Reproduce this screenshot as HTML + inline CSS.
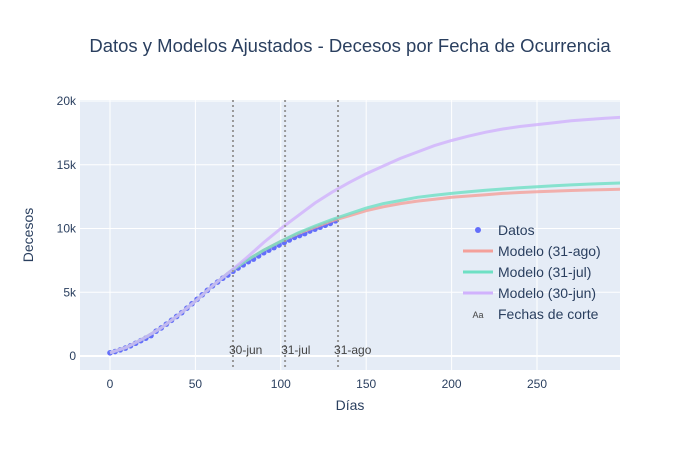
<!DOCTYPE html>
<html><head><meta charset="utf-8"><style>
body{margin:0;background:#fff;font-family:"Liberation Sans",sans-serif;}
</style></head><body>
<svg id="c" width="700" height="450" xmlns="http://www.w3.org/2000/svg" font-family="'Liberation Sans',sans-serif"></svg>
<script>
const modelDays=[0,10,20,30,40,50,60,70,80,90,100,110,120,130,140,150,160,170,180,190,200,210,220,230,240,250,260,270,280,290,300];
const modelAgo=[0.25,0.7,1.4,2.2,3.2,4.3,5.5,6.6,7.5,8.3,9.0,9.6,10.1,10.6,11.0,11.4,11.7,11.95,12.15,12.3,12.45,12.55,12.65,12.75,12.82,12.88,12.93,12.98,13.02,13.05,13.08];
const modelJul=[0.25,0.7,1.4,2.2,3.2,4.3,5.5,6.6,7.5,8.3,9.0,9.65,10.2,10.7,11.15,11.6,11.95,12.2,12.45,12.6,12.75,12.88,13.0,13.1,13.2,13.28,13.35,13.42,13.48,13.53,13.58];
const modelJun=[0.25,0.7,1.4,2.2,3.2,4.3,5.5,6.6,7.7,8.9,10.0,11.0,12.0,12.85,13.6,14.3,14.9,15.5,16.0,16.5,16.9,17.25,17.55,17.8,18.0,18.15,18.3,18.45,18.55,18.65,18.72];
const dataDays=[0,3,6,9,12,15,18,21,24,27,30,33,36,39,42,45,48,51,54,57,60,63,66,69,72,75,78,81,84,87,90,93,96,99,102,105,108,111,114,117,120,123,126,129,132];
const dataVals=[0.25,0.35,0.48,0.62,0.8,1.0,1.2,1.4,1.6,1.95,2.2,2.5,2.8,3.1,3.4,3.75,4.1,4.45,4.8,5.15,5.5,5.8,6.1,6.35,6.65,6.9,7.15,7.4,7.6,7.85,8.1,8.3,8.5,8.7,8.9,9.1,9.3,9.45,9.6,9.8,9.95,10.1,10.25,10.4,10.6];
const cutDays=[72,102.5,133.5];
const cutLabels=["30-jun","31-jul","31-ago"];
const xTicks=[0,50,100,150,200,250];
const yTicks=[0,5,10,15,20];
const yTickLabels=["0","5k","10k","15k","20k"];

const L=80,R=620,T=100,B=370;
const x=v=>110+(v)*1.708;
const y=v=>356-v*12.75;
const svg=document.getElementById('c');
const NS="http://www.w3.org/2000/svg";
function mk(tag,attrs,parent){const e=document.createElementNS(NS,tag);for(const k in attrs)e.setAttribute(k,attrs[k]);(parent||svg).appendChild(e);return e;}

const bg=mk('rect',{x:L,y:T,width:R-L,height:B-T,fill:'#e5ecf6'});


xTicks.forEach(t=>{
  const g=mk('line',{x1:x(t),x2:x(t),y1:T,y2:B,stroke:'#fff','stroke-width':1});
  
  
  const l=mk('text',{x:x(t),y:388,'text-anchor':'middle','font-size':12,fill:'#2a3f5f'});l.textContent=t;
  
  
});
yTicks.forEach((t,i)=>{
  const g=mk('line',{x1:L,x2:R,y1:y(t),y2:y(t),stroke:'#fff','stroke-width':i==0?2:1});
  
  
  const l=mk('text',{x:76,y:y(t)+4,'text-anchor':'end','font-size':12,fill:'#2a3f5f'});l.textContent=yTickLabels[i];
  
  
});
const clip=mk('clipPath',{id:'cp'});mk('rect',{x:L,y:T,width:R-L,height:B-T},clip);
function line(vals,color,name){
  const p=mk('path',{d:modelDays.map((d,i)=>(i?'L':'M')+x(d).toFixed(1)+','+y(vals[i]).toFixed(1)).join(''),fill:'none',stroke:color,'stroke-width':3,opacity:0.8,'clip-path':'url(#cp)'});
  
  
}
dataDays.forEach((d,i)=>{
  const c=mk('circle',{cx:x(d),cy:y(dataVals[i]),r:2.8,fill:'#636efa'});
  
  
});
line(modelAgo,'#f4a09a','model-31-ago-line');
line(modelJul,'#6ee0c4','model-31-jul-line');
line(modelJun,'#d1b2fd','model-30-jun-line');
cutDays.forEach((d,i)=>{
  const v=mk('line',{x1:x(d),x2:x(d),y1:T,y2:B,stroke:'#999','stroke-width':2,'stroke-dasharray':'2,3'});
  
  
  const t=mk('text',{x:x(d)-4,y:354,'font-size':12,fill:'#444'});t.textContent=cutLabels[i];
  
  
});
const ti=mk('text',{x:350,y:52,'text-anchor':'middle','font-size':18.5,fill:'#2a3f5f'});ti.textContent='Datos y Modelos Ajustados - Decesos por Fecha de Ocurrencia';


const xt=mk('text',{x:350,y:410,'text-anchor':'middle','font-size':14,fill:'#2a3f5f'});xt.textContent='Días';


const yt=mk('text',{x:33,y:235,'text-anchor':'middle','font-size':14,fill:'#2a3f5f',transform:'rotate(-90 33 235)'});yt.textContent='Decesos';


const leg=[['Datos','dot','#636efa'],['Modelo (31-ago)','line','#f4a09a'],['Modelo (31-jul)','line','#6ee0c4'],['Modelo (30-jun)','line','#d1b2fd'],['Fechas de corte','aa','#444']];
leg.forEach((e,i)=>{
  const yy=230+i*21;
  const g=mk('g',{});
  
  
  if(e[1]=='dot')mk('circle',{cx:478,cy:yy,r:3,fill:e[2]},g);
  else if(e[1]=='line')mk('line',{x1:463,x2:493,y1:yy,y2:yy,stroke:e[2],'stroke-width':3},g);
  else{const a=mk('text',{x:478,y:yy+4,'text-anchor':'middle','font-size':9,fill:e[2]},g);a.textContent='Aa';}
  const t=mk('text',{x:498,y:yy+5,'font-size':14,fill:'#2a3f5f'},g);t.textContent=e[0];
});
</script>
</body></html>
